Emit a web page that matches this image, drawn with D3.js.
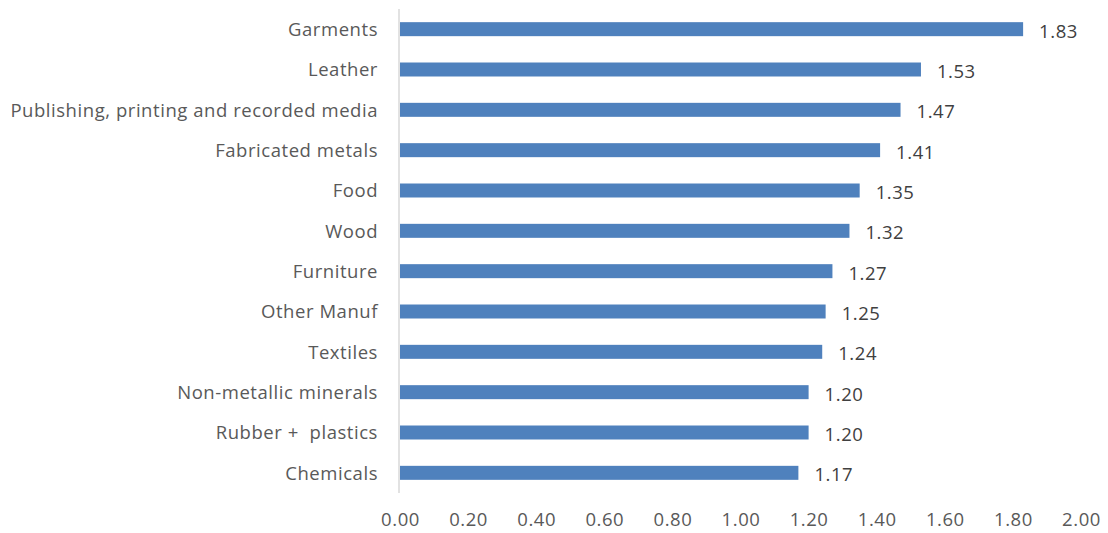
<!DOCTYPE html>
<html><head><meta charset="utf-8">
<script src="https://cdn.jsdelivr.net/npm/d3@7"></script>
<style>html,body{margin:0;padding:0;background:#fff;}svg{display:block;} text{white-space:pre;}</style>
</head><body>
<svg id="chart" width="1108" height="533"></svg>
<script>
const categories = ["Garments","Leather","Publishing, printing and recorded media","Fabricated metals","Food","Wood","Furniture","Other Manuf","Textiles","Non-metallic minerals","Rubber +  plastics","Chemicals"];
const values = [1.83,1.53,1.47,1.41,1.35,1.32,1.27,1.25,1.24,1.20,1.20,1.17];
const tickValues = [0,0.2,0.4,0.6,0.8,1.0,1.2,1.4,1.6,1.8,2.0];

const svg = d3.select("#chart");
const font = "Open Sans, sans-serif";
const fs = "18.5px";
const ls = "0.55px";
const textColor = "#595959";
const x = d3.scaleLinear().domain([0,2]).range([400,1081]);
const y = d3.scaleBand().domain(categories).range([9,493]).paddingInner(0.653).paddingOuter(0.3265);

// bars
svg.append("g").selectAll("rect").data(values).join("rect")
  .attr("x", x(0))
  .attr("y", (d,i)=>y(categories[i]))
  .attr("width", d=>x(d)-x(0))
  .attr("height", y.bandwidth())
  .attr("fill","#4f81bd");

// vertical axis line
svg.append("line").attr("x1",399).attr("x2",399).attr("y1",9).attr("y2",493)
  .attr("stroke","#d9d9d9").attr("stroke-width",1.5);

// category labels
const yAxis = d3.axisLeft(y).tickSize(0).tickPadding(21);
const gy = svg.append("g").attr("transform","translate(399,1)").call(yAxis);
gy.select(".domain").remove();
gy.selectAll("text").attr("font-family",font).attr("font-size",fs).attr("letter-spacing",ls).attr("fill",textColor);

// x axis tick labels
const xAxis = d3.axisBottom(x).tickValues(tickValues).tickFormat(d3.format(".2f")).tickSize(0).tickPadding(0);
const gx = svg.append("g").attr("transform","translate(0,513)").call(xAxis);
gx.select(".domain").remove();
gx.selectAll("text").attr("font-family",font).attr("font-size",fs).attr("letter-spacing",ls).attr("fill",textColor);

// value labels
svg.append("g").selectAll("text").data(values).join("text")
  .attr("x", d=>x(d)+16)
  .attr("y", (d,i)=>y(categories[i])+y.bandwidth()/2+2)
  .attr("dy","0.35em")
  .attr("font-family",font).attr("font-size",fs).attr("letter-spacing",ls).attr("fill","#404040")
  .text(d=>d3.format(".2f")(d));
</script>
</body></html>
